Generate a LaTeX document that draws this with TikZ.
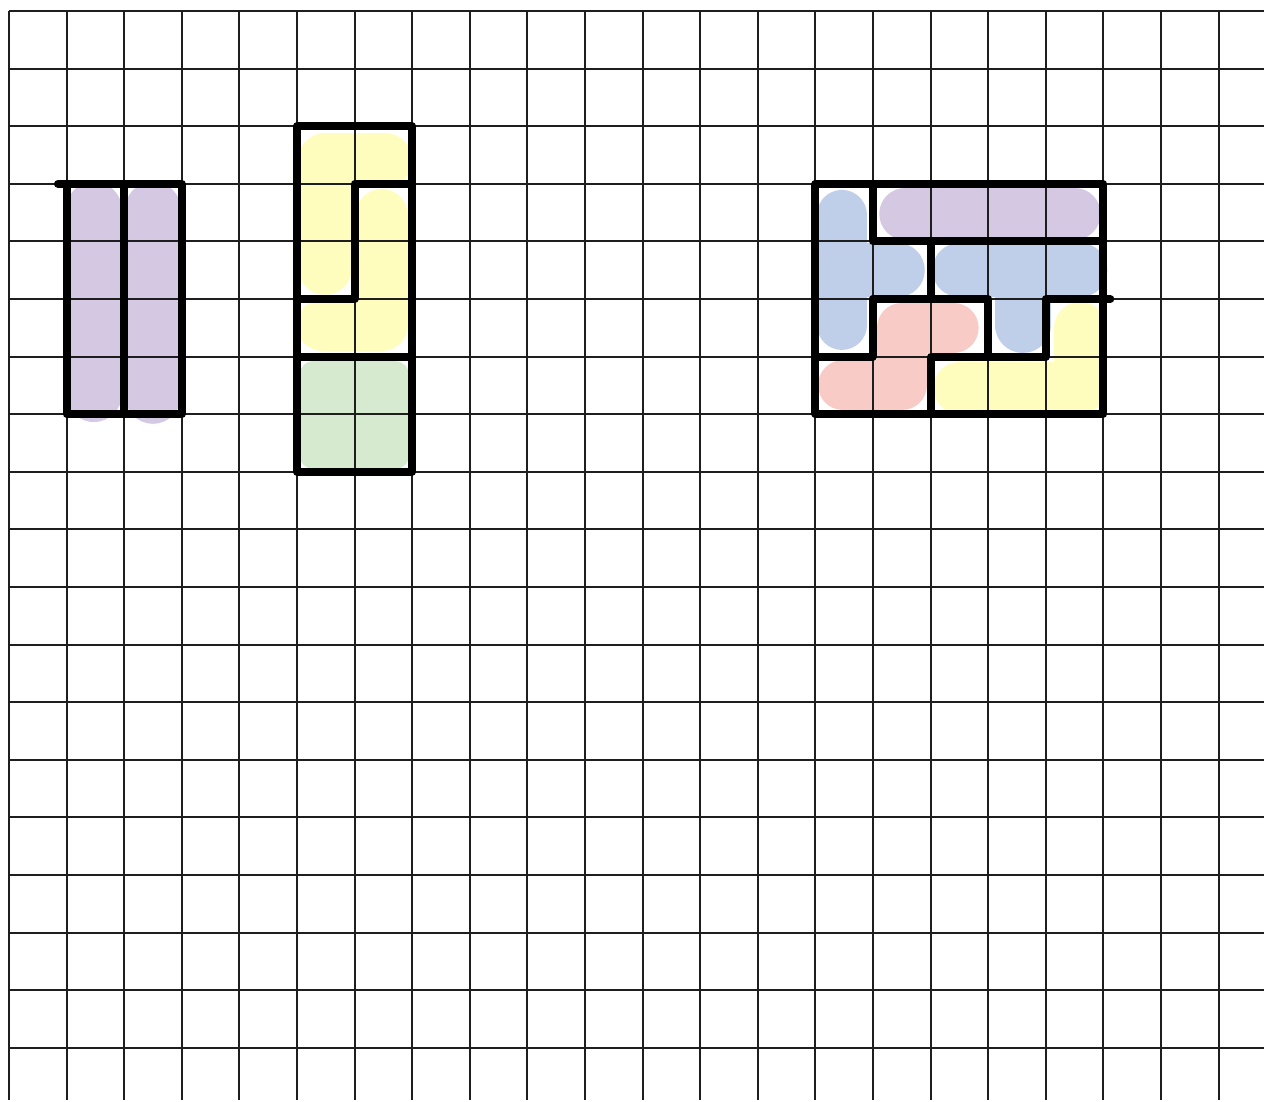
\documentclass[tikz,border=0pt]{standalone}
\definecolor{gridc}{RGB}{30,30,30}
\definecolor{lav}{RGB}{213,200,227}
\definecolor{yel}{RGB}{255,253,190}
\definecolor{grn}{RGB}{213,234,207}
\definecolor{blu}{RGB}{191,206,233}
\definecolor{red}{RGB}{249,203,198}
\tikzset{
  gridline/.style={gridc, line width=2pt},
  outline/.style={black, line width=8pt, line cap=round, line join=round},
  fillstroke/.style={line width=#1, line cap=round, line join=round},
  fillstroke/.default=52pt
}
\begin{document}
\begin{tikzpicture}[x=1pt,y=-1pt]
\useasboundingbox (0,0) rectangle (1264,1101);
\fill[white] (0,0) rectangle (1264,1101);
\begin{scope}[shift={(9,11)}, x=57.6pt, y=-57.6pt]
  % shape 1 fills
  \draw[fillstroke=56pt, lav] (1.47,3.45) -- (1.47,6.65);
  \draw[fillstroke=56pt, lav] (2.5,3.45) -- (2.5,6.68);
  % shape 2 fills
  \draw[fillstroke=54pt, yel] (6.53,2.59) -- (5.49,2.59) -- (5.49,4.46);
  \draw[fillstroke=52pt, yel] (6.47,3.54) -- (6.47,5.45) -- (5.45,5.45);
  \fill[grn, rounded corners=14pt] (5.04,6.08) rectangle (6.95,7.95);
  % shape 3 fills
  \draw[fillstroke=52pt, lav] (15.56,3.52) -- (18.5,3.52);
  \draw[fillstroke=50pt, blu] (14.46,3.54) -- (14.46,5.45);
  \draw[fillstroke=54pt, blu] (14.5,4.5) -- (15.43,4.5);
  \draw[fillstroke=54pt, blu] (16.5,4.5) -- (18.6,4.5);
  \draw[fillstroke=56pt, blu] (17.6,4.5) -- (17.6,5.45);
  \draw[fillstroke=50pt, red] (14.48,6.5) -- (15.5,6.5) -- (15.5,5.5) -- (16.4,5.5);
  \draw[fillstroke=52pt, yel] (16.5,6.55) -- (18.6,6.55) -- (18.6,5.5);

  % grid (over the fills)
  \foreach \i in {0,...,21} \draw[gridline] (\i,0) -- (\i,18.9);
  \foreach \j in {0,...,18} \draw[gridline] (0,\j) -- (21.8,\j);

  % shape 1 outline
  \draw[outline] (0.85,3) -- (3,3) -- (3,7) -- (1,7) -- (1,3);
  \draw[outline] (2,3) -- (2,7);
  % shape 2 outline
  \draw[outline] (5,2) -- (7,2) -- (7,8) -- (5,8) -- cycle;
  \draw[outline] (5,6) -- (7,6);
  \draw[outline] (7,3) -- (6,3) -- (6,5) -- (5,5);
  % shape 3 outline
  \draw[outline] (14,3) -- (19,3) -- (19,7) -- (14,7) -- cycle;
  \draw[outline] (15,3) -- (15,4) -- (19,4);
  \draw[outline] (16,4) -- (16,5);
  \draw[outline] (15,5) -- (17,5) -- (17,6) -- (18,6) -- (18,5) -- (19.12,5);
  \draw[outline] (15,5) -- (15,6) -- (14,6);
  \draw[outline] (16,7) -- (16,6) -- (17,6);
\end{scope}
\end{tikzpicture}
\end{document}
